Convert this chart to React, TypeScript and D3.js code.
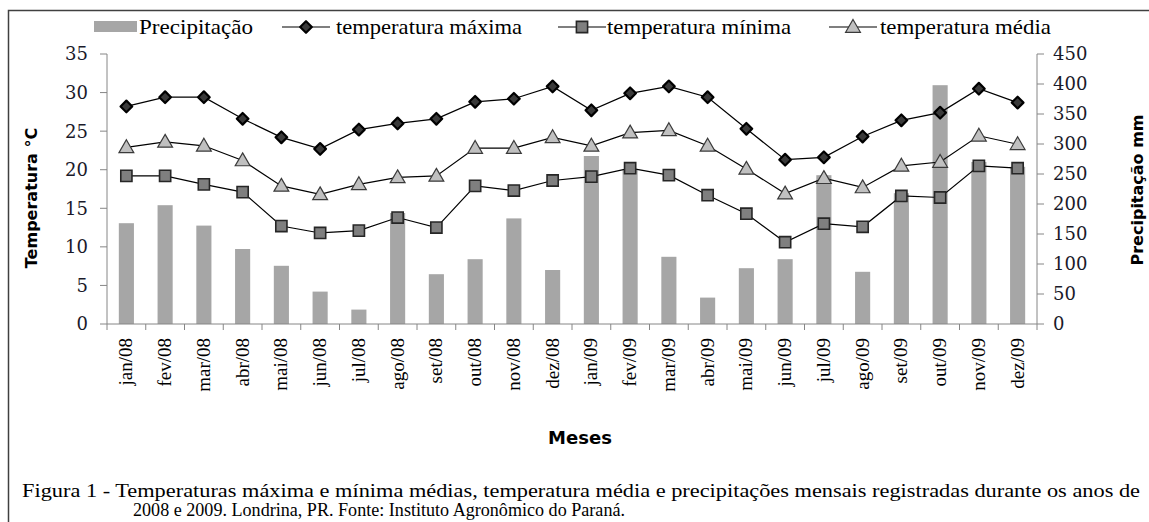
import * as d3 from "d3";

const months = [
  "jan/08", "fev/08", "mar/08", "abr/08", "mai/08", "jun/08",
  "jul/08", "ago/08", "set/08", "out/08", "nov/08", "dez/08",
  "jan/09", "fev/09", "mar/09", "abr/09", "mai/09", "jun/09",
  "jul/09", "ago/09", "set/09", "out/09", "nov/09", "dez/09",
];
const precipitacao = [168, 198, 164, 125, 97, 54, 24, 185, 83, 108, 176, 90,
  280, 258, 112, 44, 93, 108, 248, 87, 218, 398, 270, 262];
const tempMax = [28.2, 29.4, 29.4, 26.6, 24.2, 22.7, 25.2, 26.0, 26.6, 28.8, 29.2, 30.8,
  27.7, 29.9, 30.8, 29.4, 25.3, 21.3, 21.6, 24.3, 26.4, 27.4, 30.5, 28.7];
const tempMed = [22.9, 23.6, 23.1, 21.2, 17.9, 16.8, 18.1, 19.0, 19.2, 22.8, 22.8, 24.2,
  23.1, 24.8, 25.1, 23.1, 20.1, 16.9, 18.9, 17.7, 20.5, 21.0, 24.4, 23.3];
const tempMin = [19.2, 19.2, 18.1, 17.1, 12.7, 11.8, 12.1, 13.8, 12.5, 17.9, 17.3, 18.6,
  19.1, 20.2, 19.3, 16.7, 14.3, 10.6, 13.0, 12.6, 16.6, 16.4, 20.5, 20.2];
const tempTicks = [0, 5, 10, 15, 20, 25, 30, 35];
const precTicks = [0, 50, 100, 150, 200, 250, 300, 350, 400, 450];

const W = 1149;
const H = 522;
const left = 107;
const right = 1037;
const top = 54;
const bottom = 324;

const axisColor = "#868686";
const serif = "'DejaVu Serif', serif";
const times = "'Liberation Serif', 'Times New Roman', serif";
const sans = "'DejaVu Sans', Verdana, sans-serif";

const diamond = d3.symbol().type(d3.symbolSquare).size(68)()!;
const square = d3.symbol().type(d3.symbolSquare).size(125)()!;
const triangle = d3.symbol().type(d3.symbolTriangle).size(95)()!;

function MaxMarker({ x, y }: { x: number; y: number }) {
  return (
    <path d={diamond} transform={`translate(${x},${y}) rotate(45)`}
      fill="#3a3a3a" stroke="#000" strokeWidth={2.2} strokeLinejoin="round" />
  );
}
function MinMarker({ x, y }: { x: number; y: number }) {
  return (
    <path d={square} transform={`translate(${x},${y})`}
      fill="#7f7f7f" stroke="#262626" strokeWidth={1.6} />
  );
}
function MedMarker({ x, y }: { x: number; y: number }) {
  return (
    <path d={triangle} transform={`translate(${x},${y + 1})`}
      fill="#c0c0c0" stroke="#3a3a3a" strokeWidth={1.2} />
  );
}

// entradas da legenda: centro do símbolo, início do texto, largura do texto
const legendLines = [
  { Marker: MaxMarker, c: 306, tx: 336, len: 186, label: "temperatura máxima" },
  { Marker: MinMarker, c: 582, tx: 607, len: 184, label: "temperatura mínima" },
  { Marker: MedMarker, c: 853, tx: 880, len: 171, label: "temperatura média" },
];

export default function App() {
  const x = d3.scaleBand().domain(months).range([left, right]).padding(0);
  const yT = d3.scaleLinear().domain([0, 35]).range([bottom, top]);
  const yP = d3.scaleLinear().domain([0, 450]).range([bottom, top]);
  const bw = x.bandwidth();
  const cx = (m: string) => (x(m) ?? 0) + bw / 2;
  const barW = bw * 0.39;

  const line = d3.line<number>()
    .x((_, i) => cx(months[i]))
    .y((d) => yT(d));

  const series = [
    { values: tempMax, Marker: MaxMarker },
    { values: tempMed, Marker: MedMarker },
    { values: tempMin, Marker: MinMarker },
  ];

  const boundaries = [...months.map((m) => x(m) ?? 0), right];

  return (
    <svg width={W} height={H} style={{ position: "absolute", left: 0, top: 0, background: "#fff" }}>
      <rect x={8.5} y={10.5} width={W + 10} height={H + 10} fill="none" stroke="#404040" strokeWidth={1.5} />

      {/* legenda */}
      <g>
        <rect x={94} y={21} width={43} height={11} fill="#a6a6a6" />
        <text x={139} y={34} fontFamily={times} fontSize={21} textLength={114}
          lengthAdjust="spacingAndGlyphs" fill="#000">Precipitação</text>
        {legendLines.map((l) => (
          <g key={l.label}>
            <line x1={l.c - 24} x2={l.c + 24} y1={27} y2={27} stroke="#000" strokeWidth={1.2} />
            <l.Marker x={l.c} y={27} />
            <text x={l.tx} y={34} fontFamily={times} fontSize={21} textLength={l.len}
              lengthAdjust="spacingAndGlyphs" fill="#000">{l.label}</text>
          </g>
        ))}
      </g>

      {/* barras */}
      {precipitacao.map((p, i) => (
        <rect key={i} x={cx(months[i]) - barW / 2} y={yP(p)} width={barW}
          height={bottom - yP(p)} fill="#a6a6a6" />
      ))}

      {/* eixos */}
      <line x1={left} x2={left} y1={top} y2={bottom} stroke={axisColor} />
      <line x1={right} x2={right} y1={top} y2={bottom} stroke={axisColor} />
      <line x1={left} x2={right} y1={bottom} y2={bottom} stroke={axisColor} />
      {tempTicks.map((t) => (
        <g key={t}>
          <line x1={left - 7} x2={left} y1={yT(t)} y2={yT(t)} stroke={axisColor} />
          <text x={88} y={yT(t)} dy="0.36em" textAnchor="end" fontFamily={serif}
            fontSize={18} fill="#1a1a2a">{t}</text>
        </g>
      ))}
      {precTicks.map((t) => (
        <g key={t}>
          <line x1={right} x2={right + 7} y1={yP(t)} y2={yP(t)} stroke={axisColor} />
          <text x={1053} y={yP(t)} dy="0.36em" textAnchor="start" fontFamily={serif}
            fontSize={18} fill="#1a1a2a">{t}</text>
        </g>
      ))}
      {boundaries.map((b, i) => (
        <line key={i} x1={b} x2={b} y1={bottom} y2={bottom + 6} stroke={axisColor} />
      ))}
      {months.map((m) => (
        <text key={m} transform={`translate(${cx(m) + 6},${338}) rotate(-90)`}
          textAnchor="end" fontFamily={times} fontSize={19} fill="#000">{m}</text>
      ))}

      {/* linhas */}
      {series.map((s, k) => (
        <g key={k}>
          <path d={line(s.values) ?? ""} fill="none" stroke="#000" strokeWidth={1.2} />
          {s.values.map((v, i) => (
            <s.Marker key={i} x={cx(months[i])} y={yT(v)} />
          ))}
        </g>
      ))}

      {/* títulos dos eixos */}
      <text transform="translate(37,198) rotate(-90)" textAnchor="middle" fontFamily={sans}
        fontSize={16} fontWeight="bold" fill="#000">Temperatura °C</text>
      <text transform="translate(1143,190) rotate(-90)" textAnchor="middle" fontFamily={sans}
        fontSize={16} fontWeight="bold" fill="#000">Precipitação mm</text>
      <text x={580} y={444} textAnchor="middle" fontFamily={sans} fontSize={18}
        fontWeight="bold" fill="#000">Meses</text>

      {/* legenda da figura */}
      <text x={22} y={497} fontFamily={times} fontSize={19} textLength={1118}
        lengthAdjust="spacingAndGlyphs" fill="#000">
        Figura 1 - Temperaturas máxima e mínima médias, temperatura média e precipitações mensais registradas durante os anos de
      </text>
      <text x={133} y={516} fontFamily={times} fontSize={18} textLength={492}
        lengthAdjust="spacingAndGlyphs" fill="#000">
        2008 e 2009. Londrina, PR. Fonte: Instituto Agronômico do Paraná.
      </text>
    </svg>
  );
}
